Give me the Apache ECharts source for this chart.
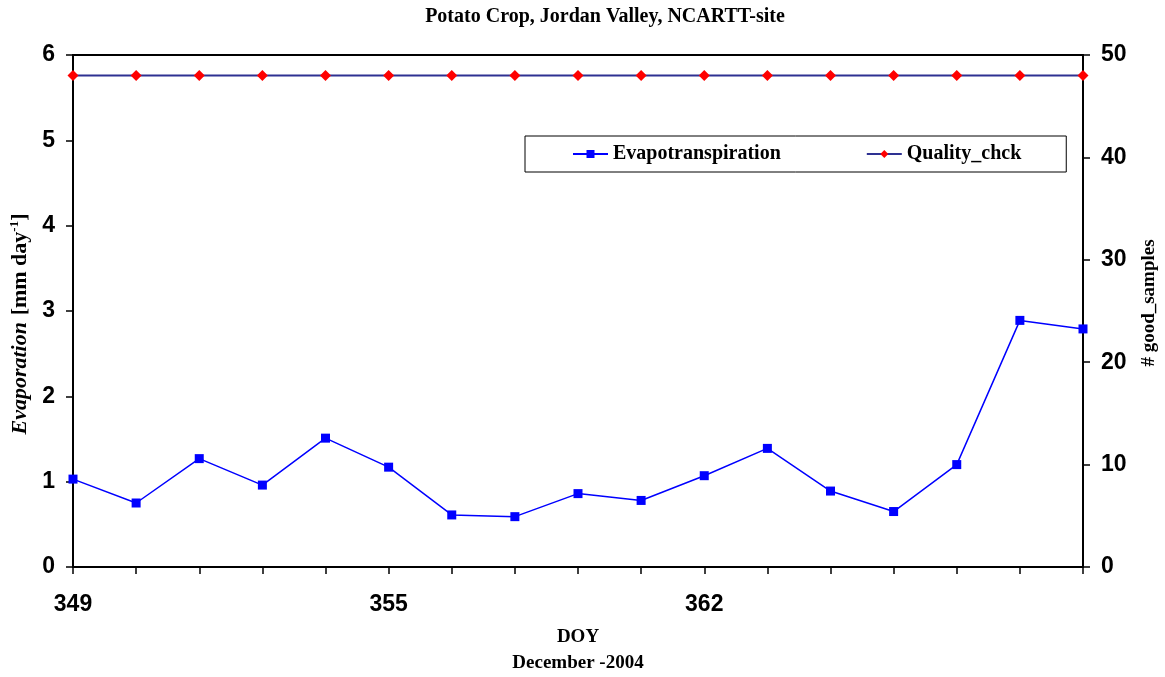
<!DOCTYPE html>
<html>
<head>
<meta charset="utf-8">
<script src="https://cdn.jsdelivr.net/npm/echarts@6/dist/echarts.min.js"></script>
<style>html,body{margin:0;padding:0;background:#fff;}#c{width:1165px;height:677px;}</style>
</head>
<body>
<div id="c"></div>
<script>
const categories = ['349','350','351','352','353','355','356','357','358','359','362','363','364','365','366','367','368'];
const tickLabels = ['349','','','','','355','','','','','362','','','','','',''];
const evapotranspiration = [1.03,0.75,1.27,0.96,1.51,1.17,0.61,0.59,0.86,0.78,1.07,1.39,0.89,0.65,1.20,2.89,2.79];
const qualityChck = [48,48,48,48,48,48,48,48,48,48,48,48,48,48,48,48,48];
const leftTicks = [0,1,2,3,4,5,6];
const rightTicks = [0,10,20,30,40,50];

const serif = 'Liberation Serif';
const sans = 'Liberation Sans';
const chart = echarts.init(document.getElementById('c'), null, {renderer:'canvas'});
chart.setOption({
  animation: false,
  backgroundColor: '#fff',
  title: {
    text: 'Potato Crop, Jordan Valley, NCARTT-site',
    left: 600, top: 2, textAlign: 'center',
    textStyle: {fontFamily: serif, fontWeight: 'bold', fontSize: 20, color: '#000'}
  },
  legend: {
    left: 525, top: 136,
    padding: [8, 45, 8, 47],
    itemGap: 85,
    itemWidth: 35, itemHeight: 10,
    borderColor: '#000', borderWidth: 1,
    textStyle: {fontFamily: serif, fontWeight: 'bold', fontSize: 20, color: '#000'},
    data: ['Evapotranspiration', 'Quality_chck']
  },
  grid: {left: 73, right: 82, top: 55, bottom: 110, outerBoundsMode: 'none', containLabel: false,
    show: true, borderColor: '#000', borderWidth: 2, backgroundColor: 'transparent'},
  xAxis: {
    type: 'category', data: categories, boundaryGap: false,
    axisLine: {lineStyle: {color: '#000', width: 2}},
    axisTick: {show: true, interval: 0, length: 7, lineStyle: {color: '#000', width: 1.5}},
    axisLabel: {interval: 0, margin: 26, formatter: (v, i) => tickLabels[i],
      fontFamily: sans, fontWeight: 'bold', fontSize: 23, color: '#000'},
    name: '{a|DOY}\n{a|December -2004}',
    nameLocation: 'middle', nameGap: 57,
    nameTextStyle: {rich: {a: {fontFamily: serif, fontWeight: 'bold', fontSize: 19, lineHeight: 26, color: '#000'}}}
  },
  yAxis: [
    {
      type: 'value', min: 0, max: 6, interval: 1, position: 'left',
      axisLine: {show: true, lineStyle: {color: '#000', width: 2}},
      axisTick: {show: true, inside: false, length: 7, lineStyle: {color: '#000', width: 1.5}},
      splitLine: {show: false},
      axisLabel: {margin: 18, fontFamily: sans, fontWeight: 'bold', fontSize: 23, color: '#000',
        formatter: v => leftTicks.includes(v) ? String(v) : ''},
      name: '{i|Evaporation}  {n|[mm day}{s|-1}{n|]}',
      nameLocation: 'middle', nameGap: 40, nameRotate: 90,
      nameTextStyle: {padding: [0, 26, 0, 0], rich: {
        i: {fontFamily: serif, fontStyle: 'italic', fontWeight: 'bold', fontSize: 22, color: '#000'},
        n: {fontFamily: serif, fontWeight: 'bold', fontSize: 22, color: '#000'},
        s: {fontFamily: serif, fontWeight: 'bold', fontSize: 13, color: '#000', padding: [0,0,11,0]}
      }}
    },
    {
      type: 'value', min: 0, max: 50, interval: 10, position: 'right',
      axisLine: {show: true, lineStyle: {color: '#000', width: 2}},
      axisTick: {show: true, inside: false, length: 7, lineStyle: {color: '#000', width: 1.5}},
      splitLine: {show: false},
      axisLabel: {margin: 18, fontFamily: sans, fontWeight: 'bold', fontSize: 23, color: '#000',
        formatter: v => rightTicks.includes(v) ? String(v) : ''},
      name: '# good_samples',
      nameLocation: 'middle', nameGap: 57, nameRotate: 90,
      nameTextStyle: {fontFamily: serif, fontWeight: 'bold', fontSize: 19, color: '#000', padding: [0, 0, 0, 16]}
    }
  ],
  series: [
    {
      name: 'Evapotranspiration', type: 'line', yAxisIndex: 0, data: evapotranspiration,
      symbol: 'rect', symbolSize: 9, showAllSymbol: true,
      lineStyle: {color: '#0000FF', width: 1.5},
      itemStyle: {color: '#0000FF'}
    },
    {
      name: 'Quality_chck', type: 'line', yAxisIndex: 1, data: qualityChck,
      symbol: 'diamond', symbolSize: 11, showAllSymbol: true,
      lineStyle: {color: '#2E3192', width: 2},
      itemStyle: {color: '#FF0000'}
    }
  ]
});
</script>
</body>
</html>
